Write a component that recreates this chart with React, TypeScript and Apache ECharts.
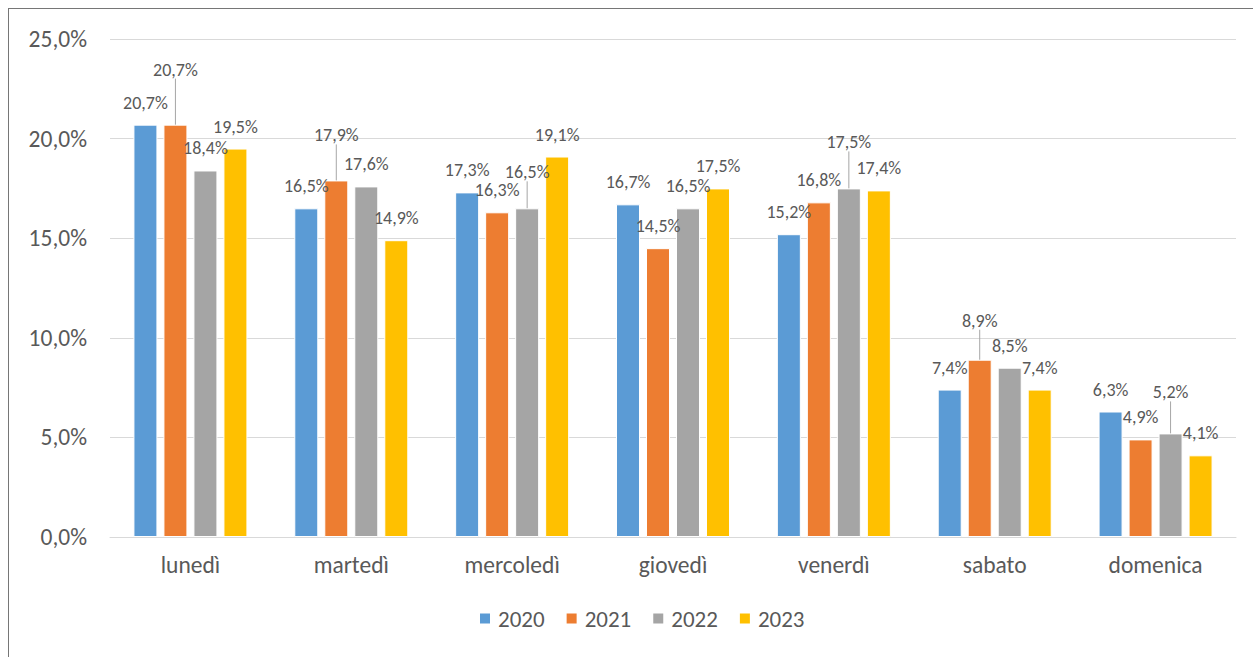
import React, { useEffect, useRef } from "react";
import * as echarts from "echarts";

const CATEGORIES = ["lunedì", "martedì", "mercoledì", "giovedì", "venerdì", "sabato", "domenica"];
const YEARS = ["2020", "2021", "2022", "2023"];
const V2020 = [20.7, 16.5, 17.3, 16.7, 15.2, 7.4, 6.3];
const V2021 = [20.7, 17.9, 16.3, 14.5, 16.8, 8.9, 4.9];
const V2022 = [18.4, 17.6, 16.5, 16.5, 17.5, 8.5, 5.2];
const V2023 = [19.5, 14.9, 19.1, 17.5, 17.4, 7.4, 4.1];
const Y_MIN = 0;
const Y_MAX = 25;
const Y_STEP = 5;

const SERIES_VALUES = [V2020, V2021, V2022, V2023];
const COLORS = ["#5B9BD5", "#ED7D31", "#A5A5A5", "#FFC000"];
// extra upward shift (px) of labels that Excel moved away from their bar (drawn with leader lines)
const LABEL_LIFT = [
  [0, 0, 0, 0, 0, 0, 0],
  [33, 23, 0, 0, 0, 17, 0],
  [0, 0, 14, 0, 24, 0, 19],
  [0, 0, 0, 0, 0, 0, 0],
];

const FONT = "Carlito, Lato, sans-serif";
const TEXT = "#595959";

const pct = (v: number) => v.toFixed(1).replace(".", ",") + "%";

export default function App() {
  const ref = useRef<HTMLDivElement>(null);
  useEffect(() => {
    document.body.style.overflow = "hidden";
    const chart = echarts.init(ref.current!, null, { renderer: "svg" });
    const series = YEARS.map((year, s) => ({
      name: year,
      type: "bar",
      barWidth: 24,
      barGap: "25%",
      itemStyle: { color: COLORS[s], borderColor: "#ffffff", borderWidth: 1 },
      label: {
        show: true,
        position: "top",
        color: TEXT,
        fontFamily: FONT,
        fontSize: 18,
        formatter: (p: any) => pct(p.value),
      },
      labelLine: { show: false, lineStyle: { color: "#a6a6a6", width: 1 } },
      labelLayout: (p: any) => ({
        x: p.rect.x + p.rect.width / 2,
        y: p.rect.y - 22 - LABEL_LIFT[p.seriesIndex][p.dataIndex],
        align: "center",
        verticalAlign: "middle",
      }),
      data: SERIES_VALUES[s].map((v, i) => ({
        value: v,
        labelLine: { show: LABEL_LIFT[s][i] > 0, lineStyle: { color: "#a6a6a6", width: 1 } },
      })),
    }));
    chart.setOption({
      animation: false,
      backgroundColor: "transparent",
      textStyle: { fontFamily: FONT },
      grid: { left: 110, top: 39, width: 1126, height: 498, containLabel: false },
      legend: {
        data: YEARS,
        left: 478,
        top: 607,
        padding: 0,
        itemWidth: 12,
        itemHeight: 12,
        itemGap: 20,
        icon: "rect",
        textStyle: { color: TEXT, fontSize: 23, fontFamily: FONT, padding: [0, 0, 0, 2] },
      },
      xAxis: {
        type: "category",
        data: CATEGORIES,
        axisLine: { lineStyle: { color: "#d9d9d9", width: 1 } },
        axisTick: { show: false },
        axisLabel: { color: TEXT, fontSize: 23.5, fontFamily: FONT, margin: 16 },
      },
      yAxis: {
        type: "value",
        min: Y_MIN,
        max: Y_MAX,
        interval: Y_STEP,
        axisLine: { show: false },
        axisTick: { show: false },
        splitLine: { lineStyle: { color: "#d9d9d9", width: 1 } },
        axisLabel: { color: TEXT, fontSize: 23.5, fontFamily: FONT, margin: 23, formatter: (v: number) => pct(v) },
      },
      series,
    });
    return () => chart.dispose();
  }, []);
  return (
    <div style={{ position: "fixed", left: 0, top: 0, width: 1253, height: 657, background: "#fff", overflow: "hidden" }}>
      <div
        style={{
          position: "absolute",
          left: 8,
          top: 8,
          width: 1300,
          height: 700,
          borderTop: "1px solid #767676",
          borderLeft: "1px solid #767676",
        }}
      />
      <div ref={ref} style={{ position: "absolute", left: 0, top: 0, width: 1253, height: 657 }} />
    </div>
  );
}
